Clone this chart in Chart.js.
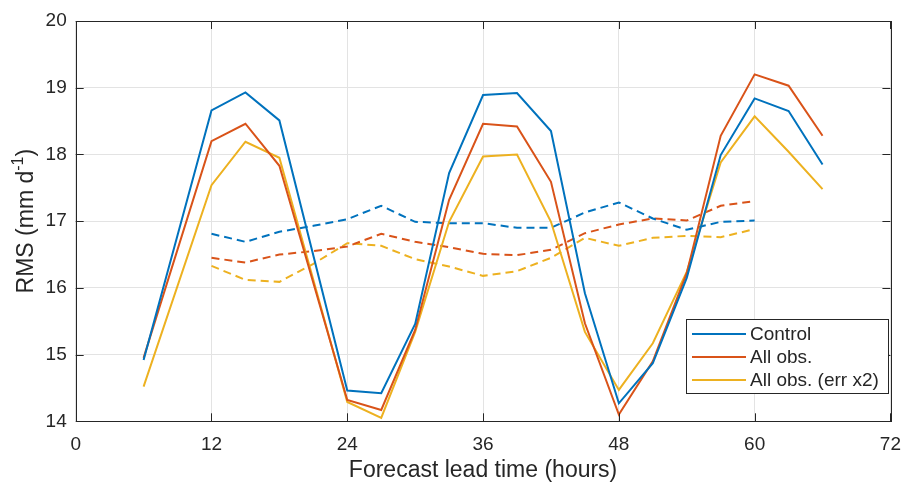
<!DOCTYPE html>
<html>
<head>
<meta charset="utf-8">
<script src="https://cdn.jsdelivr.net/npm/chart.js@4.4.1/dist/chart.umd.min.js"></script>
<style>
  html, body { margin: 0; padding: 0; background: #fff; }
  #wrap { width: 913px; height: 482px; }
</style>
</head>
<body>
<div id="wrap"><canvas id="rmsChart" width="913" height="482"></canvas></div>
<script>
// --- DATA ---
const hoursSolid = [6, 12, 15, 18, 24, 27, 30, 33, 36, 39, 42, 45, 48, 51, 54, 57, 60, 63, 66];
const controlSolid = [14.92, 18.66, 18.93, 18.51, 14.46, 14.42, 15.46, 17.72, 18.89, 18.92, 18.35, 15.92, 14.27, 14.87, 16.15, 17.99, 18.84, 18.65, 17.85];
const allObsSolid = [14.95, 18.20, 18.46, 17.83, 14.32, 14.17, 15.37, 17.32, 18.46, 18.42, 17.59, 15.47, 14.10, 14.90, 16.22, 18.28, 19.20, 19.03, 18.28];
const errX2Solid = [14.52, 17.54, 18.19, 17.95, 14.29, 14.05, 15.34, 16.99, 17.97, 18.00, 16.99, 15.34, 14.47, 15.17, 16.24, 17.88, 18.57, 18.04, 17.48];

const hoursDashed = [12, 15, 18, 21, 24, 27, 30, 33, 36, 39, 42, 45, 48, 51, 54, 57, 60];
const controlDashed = [16.81, 16.69, 16.84, 16.93, 17.03, 17.23, 16.99, 16.97, 16.97, 16.90, 16.90, 17.13, 17.28, 17.04, 16.87, 16.99, 17.01];
const allObsDashed = [16.45, 16.38, 16.50, 16.55, 16.62, 16.81, 16.69, 16.61, 16.51, 16.49, 16.57, 16.82, 16.95, 17.04, 17.01, 17.23, 17.30];
const errX2Dashed = [16.33, 16.12, 16.09, 16.36, 16.67, 16.63, 16.43, 16.32, 16.18, 16.25, 16.45, 16.75, 16.63, 16.75, 16.78, 16.76, 16.88];

const seriesNames = ['Control', 'All obs.', 'All obs. (err x2)'];
const seriesColors = ['#0072BD', '#D95319', '#EDB120'];

const xTitle = 'Forecast lead time (hours)';
const yTitleMain = 'RMS (mm d';
const yTitleSup = '-1';
const yTitleEnd = ')';

const FONT = '"Liberation Sans", Arial, Helvetica, sans-serif';
const AXIS_COLOR = '#262626';

function pts(xs, ys) {
    return xs.map((x, i) => ({ x: x, y: ys[i] }));
}

const datasets = [];
[controlSolid, allObsSolid, errX2Solid].forEach((ys, i) => {
    datasets.push({
        label: seriesNames[i],
        data: pts(hoursSolid, ys),
        borderColor: seriesColors[i],
        borderWidth: 2,
        pointRadius: 0,
        tension: 0,
        fill: false
    });
});
[controlDashed, allObsDashed, errX2Dashed].forEach((ys, i) => {
    datasets.push({
        label: seriesNames[i] + ' (dashed)',
        data: pts(hoursDashed, ys),
        borderColor: seriesColors[i],
        borderWidth: 2,
        borderDash: [8, 5],
        pointRadius: 0,
        tension: 0,
        fill: false
    });
});

// frame, inward ticks, titles, legend (MATLAB style)
const matlabDecor = {
    id: 'matlabDecor',
    afterDatasetsDraw(chart) {
        const ctx = chart.ctx;
        const a = chart.chartArea;
        const xs = chart.scales.x;
        const ys = chart.scales.y;
        const tl = 8;
        ctx.save();
        ctx.strokeStyle = AXIS_COLOR;
        ctx.lineWidth = 1;
        ctx.strokeRect(Math.round(a.left) + 0.5, Math.round(a.top) + 0.5,
            Math.round(a.right - a.left), Math.round(a.bottom - a.top));
        ctx.beginPath();
        xs.ticks.forEach(t => {
            const px = Math.round(xs.getPixelForValue(t.value)) + 0.5;
            ctx.moveTo(px, a.bottom); ctx.lineTo(px, a.bottom - tl);
            ctx.moveTo(px, a.top); ctx.lineTo(px, a.top + tl);
        });
        ys.ticks.forEach(t => {
            const py = Math.round(ys.getPixelForValue(t.value)) + 0.5;
            ctx.moveTo(a.left, py); ctx.lineTo(a.left + tl, py);
            ctx.moveTo(a.right, py); ctx.lineTo(a.right - tl, py);
        });
        ctx.stroke();

        // axis titles
        ctx.fillStyle = AXIS_COLOR;
        ctx.textBaseline = 'middle';
        ctx.textAlign = 'center';
        ctx.font = '23px ' + FONT;
        ctx.fillText(xTitle, (a.left + a.right) / 2, 471);

        ctx.translate(27, (a.top + a.bottom) / 2);
        ctx.rotate(-Math.PI / 2);
        ctx.textAlign = 'left';
        ctx.font = '23px ' + FONT;
        const w1 = ctx.measureText(yTitleMain).width;
        const w3 = ctx.measureText(yTitleEnd).width;
        ctx.font = '16px ' + FONT;
        const w2 = ctx.measureText(yTitleSup).width;
        let cx = -(w1 + w2 + w3) / 2;
        ctx.font = '23px ' + FONT;
        ctx.fillText(yTitleMain, cx, 0);
        cx += w1;
        ctx.font = '16px ' + FONT;
        ctx.fillText(yTitleSup, cx, -8);
        cx += w2;
        ctx.font = '23px ' + FONT;
        ctx.fillText(yTitleEnd, cx, 0);
        ctx.restore();

        // legend box
        ctx.save();
        const lx = 686, ly = 319, lw = 202, lh = 74;
        ctx.fillStyle = '#fff';
        ctx.fillRect(lx, ly, lw, lh);
        ctx.strokeStyle = AXIS_COLOR;
        ctx.lineWidth = 1;
        ctx.strokeRect(lx + 0.5, ly + 0.5, lw, lh);
        const rows = [334, 357, 380];
        ctx.font = '19px ' + FONT;
        ctx.textBaseline = 'middle';
        ctx.textAlign = 'left';
        seriesNames.forEach((name, i) => {
            ctx.strokeStyle = seriesColors[i];
            ctx.lineWidth = 2;
            ctx.beginPath();
            ctx.moveTo(692, rows[i]);
            ctx.lineTo(746, rows[i]);
            ctx.stroke();
            ctx.fillStyle = AXIS_COLOR;
            ctx.fillText(name, 750, rows[i] + 1);
        });
        ctx.restore();
    }
};

const ctxRms = document.getElementById('rmsChart').getContext('2d');
new Chart(ctxRms, {
    type: 'line',
    data: { datasets: datasets },
    options: {
        responsive: false,
        animation: false,
        devicePixelRatio: 1,
        layout: { padding: { left: 0, top: 21, right: 15.7, bottom: 0 } },
        plugins: { legend: { display: false }, tooltip: { enabled: false } },
        scales: {
            x: {
                type: 'linear',
                min: 0, max: 72,
                ticks: { stepSize: 12, color: AXIS_COLOR, font: { family: FONT, size: 19 }, padding: 12, maxRotation: 0 },
                grid: { color: '#e3e3e3', drawTicks: false },
                border: { display: false },
                afterFit(scale) { scale.height = 60.7; }
            },
            y: {
                min: 14, max: 20,
                ticks: { stepSize: 1, color: AXIS_COLOR, font: { family: FONT, size: 19 }, padding: 9 },
                grid: { color: '#e3e3e3', drawTicks: false },
                border: { display: false },
                afterFit(scale) { scale.width = 75.7; }
            }
        }
    },
    plugins: [matlabDecor]
});
</script>
</body>
</html>
